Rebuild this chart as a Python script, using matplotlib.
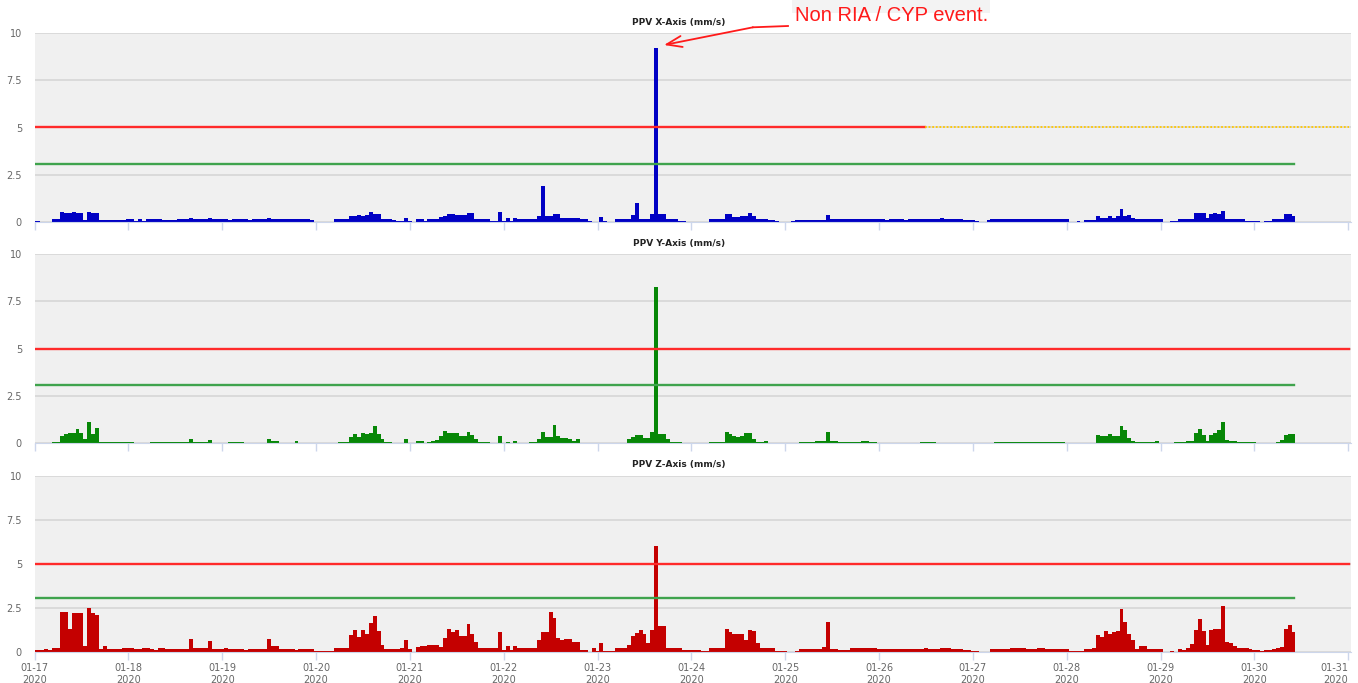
import numpy as np
import matplotlib
matplotlib.use("Agg")
import matplotlib.pyplot as plt
from matplotlib.lines import Line2D
from matplotlib.patches import Rectangle
from matplotlib.transforms import ScaledTranslation

W, H = 1358, 683

# hourly PPV values (mm/s), one row per day starting 2020-01-17 00:00
ppv_x = [
    0.05, 0.05, 0, 0, 0, 0.15, 0.15, 0.53, 0.45, 0.45, 0.5, 0.45, 0.45, 0.1, 0.5, 0.45, 0.45, 0.1, 0.1, 0.1, 0.1, 0.1, 0.1, 0.1,
    0.12, 0.12, 0.05, 0.12, 0.05, 0.12, 0.12, 0.12, 0.12, 0.1, 0.1, 0.08, 0.08, 0.15, 0.15, 0.15, 0.2, 0.15, 0.15, 0.15, 0.15, 0.2, 0.12, 0.12,
    0.12, 0.12, 0.1, 0.12, 0.12, 0.12, 0.12, 0.1, 0.12, 0.12, 0.12, 0.12, 0.2, 0.12, 0.12, 0.12, 0.12, 0.12, 0.12, 0.12, 0.12, 0.12, 0.12, 0.1,
    0, 0, 0, 0, 0, 0.15, 0.15, 0.15, 0.15, 0.3, 0.3, 0.36, 0.3, 0.36, 0.5, 0.42, 0.42, 0.15, 0.15, 0.15, 0.1, 0.05, 0.05, 0.2,
    0.05, 0, 0.15, 0.15, 0.05, 0.15, 0.15, 0.15, 0.27, 0.3, 0.42, 0.42, 0.36, 0.36, 0.36, 0.45, 0.45, 0.15, 0.15, 0.15, 0.15, 0.05, 0.05, 0.53,
    0.05, 0.18, 0.05, 0.18, 0.12, 0.12, 0.12, 0.12, 0.12, 0.3, 1.88, 0.3, 0.3, 0.43, 0.43, 0.18, 0.18, 0.18, 0.18, 0.18, 0.12, 0.12, 0.02, 0,
    0, 0.27, 0.05, 0, 0, 0.12, 0.12, 0.12, 0.12, 0.36, 0.98, 0.12, 0.12, 0.12, 0.42, 9.2, 0.42, 0.42, 0.15, 0.15, 0.15, 0.05, 0.05, 0,
    0, 0, 0, 0, 0, 0.12, 0.12, 0.12, 0.12, 0.42, 0.42, 0.27, 0.27, 0.3, 0.3, 0.45, 0.3, 0.15, 0.12, 0.12, 0.1, 0.1, 0.05, 0,
    0, 0, 0.05, 0.1, 0.1, 0.1, 0.1, 0.1, 0.1, 0.1, 0.1, 0.35, 0.12, 0.12, 0.12, 0.12, 0.12, 0.12, 0.12, 0.12, 0.12, 0.12, 0.12, 0.12,
    0.12, 0.12, 0.1, 0.12, 0.12, 0.12, 0.12, 0.1, 0.12, 0.12, 0.15, 0.12, 0.12, 0.15, 0.15, 0.15, 0.18, 0.15, 0.15, 0.12, 0.15, 0.15, 0.1, 0.08,
    0.1, 0.05, 0, 0, 0.1, 0.12, 0.15, 0.15, 0.15, 0.15, 0.15, 0.12, 0.12, 0.15, 0.15, 0.12, 0.12, 0.15, 0.12, 0.12, 0.12, 0.12, 0.12, 0.15,
    0.12, 0, 0, 0.05, 0, 0.1, 0.1, 0.1, 0.3, 0.18, 0.18, 0.3, 0.18, 0.32, 0.65, 0.32, 0.35, 0.18, 0.12, 0.12, 0.12, 0.12, 0.12, 0.12,
    0.12, 0, 0, 0.05, 0.05, 0.12, 0.12, 0.12, 0.12, 0.45, 0.48, 0.48, 0.18, 0.39, 0.45, 0.39, 0.57, 0.15, 0.12, 0.12, 0.12, 0.12, 0.05, 0.05,
    0.05, 0.05, 0, 0.05, 0.05, 0.15, 0.15, 0.15, 0.42, 0.42, 0.3,
]

ppv_y = [
    0.02, 0.02, 0.02, 0, 0.02, 0.07, 0.07, 0.39, 0.48, 0.51, 0.51, 0.76, 0.51, 0.2, 1.12, 0.5, 0.81, 0.07, 0.07, 0.07, 0.07, 0.07, 0.07, 0.07,
    0.07, 0.07, 0.02, 0.02, 0.02, 0.02, 0.07, 0.07, 0.07, 0.07, 0.07, 0.07, 0.07, 0.07, 0.07, 0.07, 0.2, 0.07, 0.07, 0.07, 0.07, 0.14, 0.02, 0.02,
    0.02, 0.02, 0.07, 0.07, 0.05, 0.05, 0.02, 0.02, 0.02, 0.02, 0.02, 0.02, 0.23, 0.1, 0.1, 0.02, 0.02, 0.02, 0.02, 0.09, 0.02, 0.02, 0.02, 0.02,
    0.01, 0.01, 0.01, 0.01, 0.01, 0.01, 0.07, 0.07, 0.07, 0.32, 0.5, 0.3, 0.55, 0.46, 0.55, 0.88, 0.46, 0.2, 0.07, 0.07, 0.02, 0.02, 0.02, 0.23,
    0.02, 0, 0.1, 0.1, 0.02, 0.07, 0.1, 0.18, 0.35, 0.62, 0.55, 0.53, 0.55, 0.35, 0.35, 0.58, 0.4, 0.2, 0.07, 0.07, 0.07, 0, 0, 0.37,
    0, 0.07, 0, 0.12, 0.02, 0.02, 0.02, 0.07, 0.07, 0.2, 0.58, 0.32, 0.32, 0.95, 0.37, 0.28, 0.28, 0.2, 0.12, 0.2, 0.02, 0.02, 0, 0.02,
    0, 0.02, 0.02, 0.02, 0.02, 0.02, 0.02, 0.02, 0.23, 0.33, 0.44, 0.44, 0.26, 0.26, 0.58, 8.25, 0.46, 0.46, 0.2, 0.05, 0.05, 0.05, 0.01, 0.01,
    0.01, 0.01, 0.01, 0.01, 0.01, 0.07, 0.07, 0.07, 0.07, 0.58, 0.48, 0.39, 0.32, 0.35, 0.53, 0.53, 0.23, 0.07, 0.07, 0.1, 0.01, 0.01, 0.01, 0,
    0, 0, 0, 0, 0.05, 0.05, 0.05, 0.05, 0.09, 0.09, 0.09, 0.58, 0.1, 0.1, 0.05, 0.05, 0.05, 0.05, 0.05, 0.05, 0.1, 0.1, 0.05, 0.05,
    0.02, 0.02, 0.02, 0.02, 0.02, 0.02, 0.02, 0.02, 0.02, 0.02, 0.02, 0.07, 0.07, 0.07, 0.07, 0.02, 0.02, 0.02, 0.02, 0.02, 0.02, 0.02, 0.02, 0.02,
    0, 0, 0, 0, 0.02, 0.02, 0.07, 0.07, 0.07, 0.07, 0.07, 0.07, 0.07, 0.07, 0.07, 0.07, 0.07, 0.05, 0.05, 0.05, 0.05, 0.05, 0.07, 0.07,
    0.02, 0, 0, 0, 0, 0.02, 0.02, 0.02, 0.44, 0.35, 0.35, 0.5, 0.35, 0.35, 0.9, 0.7, 0.26, 0.1, 0.07, 0.07, 0.04, 0.04, 0.07, 0.12,
    0, 0, 0, 0, 0.07, 0.07, 0.07, 0.1, 0.1, 0.53, 0.76, 0.44, 0.1, 0.44, 0.53, 0.67, 1.1, 0.18, 0.1, 0.1, 0.07, 0.07, 0.04, 0.04,
    0.04, 0, 0, 0.02, 0.02, 0.02, 0.07, 0.16, 0.44, 0.5, 0.5,
]

ppv_z = [
    0.08, 0.08, 0.08, 0.15, 0.08, 0.23, 0.23, 2.25, 2.25, 1.3, 2.2, 2.22, 2.2, 0.35, 2.5, 2.2, 2.1, 0.15, 0.3, 0.18, 0.18, 0.18, 0.18, 0.2,
    0.2, 0.2, 0.15, 0.15, 0.2, 0.2, 0.15, 0.12, 0.2, 0.2, 0.15, 0.15, 0.15, 0.18, 0.18, 0.18, 0.75, 0.2, 0.2, 0.2, 0.2, 0.62, 0.18, 0.18,
    0.18, 0.2, 0.18, 0.15, 0.18, 0.18, 0.12, 0.15, 0.15, 0.18, 0.18, 0.18, 0.74, 0.31, 0.31, 0.18, 0.18, 0.18, 0.18, 0.12, 0.18, 0.18, 0.18, 0.18,
    0.02, 0.02, 0.02, 0.02, 0.05, 0.2, 0.2, 0.2, 0.2, 0.93, 1.26, 0.83, 1.26, 0.99, 1.65, 2.05, 1.18, 0.39, 0.17, 0.17, 0.17, 0.17, 0.2, 0.68,
    0.15, 0, 0.27, 0.35, 0.35, 0.4, 0.4, 0.4, 0.27, 0.8, 1.3, 1.14, 1.26, 0.87, 0.87, 1.55, 0.99, 0.56, 0.19, 0.19, 0.19, 0.19, 0.19, 1.12,
    0.12, 0.35, 0.12, 0.35, 0.19, 0.19, 0.19, 0.19, 0.19, 0.64, 1.12, 1.12, 2.25, 1.92, 0.8, 0.64, 0.7, 0.7, 0.54, 0.54, 0.08, 0.08, 0, 0.2,
    0.02, 0.5, 0.05, 0.02, 0.02, 0.19, 0.19, 0.19, 0.4, 0.9, 1.05, 1.24, 0.99, 0.5, 1.24, 6.0, 1.47, 1.47, 0.19, 0.19, 0.2, 0.2, 0.08, 0.08,
    0.08, 0.12, 0.12, 0.02, 0.02, 0.19, 0.19, 0.19, 0.19, 1.32, 1.12, 0.99, 0.99, 0.99, 0.64, 1.24, 1.18, 0.5, 0.19, 0.19, 0.19, 0.19, 0.06, 0.06,
    0.06, 0, 0, 0.06, 0.15, 0.15, 0.15, 0.15, 0.15, 0.15, 0.27, 1.67, 0.15, 0.15, 0.12, 0.12, 0.12, 0.19, 0.19, 0.19, 0.19, 0.19, 0.19, 0.19,
    0.15, 0.17, 0.15, 0.17, 0.15, 0.15, 0.17, 0.17, 0.15, 0.15, 0.15, 0.17, 0.2, 0.17, 0.17, 0.17, 0.2, 0.2, 0.2, 0.17, 0.17, 0.15, 0.12, 0.1,
    0.06, 0.03, 0, 0, 0, 0.17, 0.17, 0.17, 0.17, 0.17, 0.2, 0.2, 0.2, 0.2, 0.17, 0.17, 0.17, 0.2, 0.2, 0.17, 0.17, 0.17, 0.17, 0.17,
    0.17, 0.02, 0.02, 0.02, 0.02, 0.15, 0.15, 0.2, 0.96, 0.85, 1.2, 1.0, 1.1, 1.15, 2.44, 1.67, 1.0, 0.65, 0.17, 0.35, 0.35, 0.17, 0.17, 0.17,
    0.15, 0, 0, 0.06, 0, 0.15, 0.12, 0.19, 0.45, 1.22, 1.84, 1.18, 0.37, 1.24, 1.3, 1.28, 2.6, 0.56, 0.5, 0.35, 0.19, 0.19, 0.19, 0.15,
    0.12, 0.12, 0.02, 0.08, 0.08, 0.15, 0.19, 0.27, 1.28, 1.53, 1.14,
]

day_labels = ["01-17", "01-18", "01-19", "01-20", "01-21", "01-22", "01-23", "01-24",
              "01-25", "01-26", "01-27", "01-28", "01-29", "01-30", "01-31"]
titles = ["PPV X-Axis (mm/s)", "PPV Y-Axis (mm/s)", "PPV Z-Axis (mm/s)"]
bar_colors = ["#0000c4", "#078707", "#c40000"]
limit_red = 5
limit_green = 3.05
red_solid_end = 227.7   # hours, panel 1 only: red line turns into a dotted yellow one
green_end = 322.1       # hours, green line stops at the last data point

xmax = 336.7
fig = plt.figure(figsize=(W / 100, H / 100), dpi=100)

# axes boxes in pixels: (top, bottom)
boxes = [(33.3, 221.7), (254.3, 443.0), (476.0, 651.7)]
title_y = [22, 243.5, 465]
left, right = 34.5, 1351

for k, (series, (top, bot)) in enumerate(zip([ppv_x, ppv_y, ppv_z], boxes)):
    ax = fig.add_axes([left / W, 1 - bot / H, (right - left) / W, (bot - top) / H])
    ax.set_facecolor("#f0f0f0")
    hours = np.arange(len(series))
    ax.bar(hours, series, width=1.0, color=bar_colors[k], linewidth=0, zorder=3)

    ax.set_xlim(0, xmax)
    ax.set_ylim(0, 10)
    ax.set_yticks([0, 2.5, 5, 7.5, 10])
    ax.set_yticklabels(["0", "2.5", "5", "7.5", "10"])
    ax.grid(axis="y", color="#d4d4d4", lw=1.1, zorder=1)
    ax.set_axisbelow(True)
    for s in ["left", "right", "top"]:
        ax.spines[s].set_visible(False)
    ax.spines["bottom"].set_color("#ccd6eb")
    ax.spines["bottom"].set_zorder(4)

    ax.set_xticks(np.arange(15) * 24)
    if k == 2:
        ax.set_xticklabels([d + "\n2020" for d in day_labels], linespacing=1.25)
        last = ax.get_xticklabels()[-1]
        last.set_horizontalalignment("right")
        last.set_transform(last.get_transform() + ScaledTranslation(9 / 100, 0, fig.dpi_scale_trans))
    else:
        ax.set_xticklabels([])
    ax.tick_params(axis="x", colors="#ccd6eb", length=5.5, width=1, pad=2.5, labelcolor="#666666", labelsize=7)
    ax.tick_params(axis="y", length=0, pad=9, labelcolor="#666666", labelsize=7)

    # threshold lines
    ax.plot([0, green_end], [limit_green, limit_green], color="#3fa34d", lw=1.7, zorder=4)
    if k == 0:
        ax.plot([0, red_solid_end], [limit_red, limit_red], color="#ff2a2a", lw=1.7, zorder=4)
        ax.plot([red_solid_end, xmax - 0.4], [limit_red, limit_red], color="#ffc800", lw=1.3, ls=(0, (1, 1)), zorder=4)
    else:
        ax.plot([0, xmax - 0.4], [limit_red, limit_red], color="#ff2a2a", lw=1.7, zorder=4)

    fig.text(679 / W, 1 - title_y[k] / H, titles[k], ha="center", va="center",
             fontsize=6.5, fontweight="bold", color="#222222")

# annotation of the X spike
fig.patches.append(Rectangle((792 / W, 1 - 13 / H), 198 / W, 13 / H,
                             transform=fig.transFigure, facecolor="#f3f3f3", edgecolor="none", zorder=0))
fig.text(795 / W, 1 - 21 / H, "Non RIA / CYP event.", color="#ff1a1a", fontsize=14.5,
         family="Liberation Sans", va="baseline", ha="left")
fig.add_artist(Line2D([788 / W, 753 / W], [1 - 26 / H, 1 - 27.3 / H], transform=fig.transFigure,
                      color="#ff1a1a", lw=1.3))
fig.axes[0].annotate("", xy=(664 / W, 1 - 45 / H), xytext=(753 / W, 1 - 27.3 / H),
                     xycoords="figure fraction", textcoords="figure fraction",
                     arrowprops=dict(arrowstyle="->,head_length=1.1,head_width=0.4", color="#ff1a1a",
                                     lw=1.3, mutation_scale=10, shrinkA=0, shrinkB=0),
                     annotation_clip=False)

fig.savefig("out.png", dpi=100)
